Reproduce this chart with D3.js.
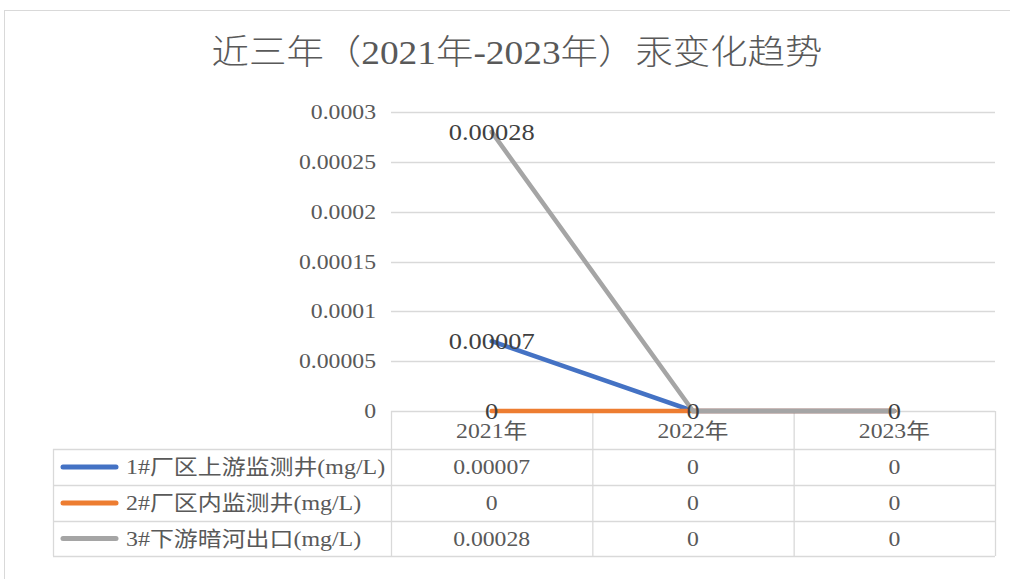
<!DOCTYPE html>
<html>
<head>
<meta charset="utf-8">
<script src="https://cdn.jsdelivr.net/npm/d3@7"></script>
<style>
  body { margin: 0; background: #fff; }
  svg { display: block; }
  text { font-family: "Liberation Serif", "Noto Sans CJK SC", serif; }
</style>
</head>
<body>
<svg id="chart"></svg>
<script>
const years = ["2021年", "2022年", "2023年"];
const seriesNames = ["1#厂区上游监测井(mg/L)", "2#厂区内监测井(mg/L)", "3#下游暗河出口(mg/L)"];
const seriesColors = ["#4472C4", "#ED7D31", "#A5A5A5"];
const upstream = [0.00007, 0, 0];
const inside = [0, 0, 0];
const downstream = [0.00028, 0, 0];
const yTicks = [0, 0.00005, 0.0001, 0.00015, 0.0002, 0.00025, 0.0003];

const width = 1010;
const height = 579;
const series = [upstream, inside, downstream].map((vals, i) => ({
  name: seriesNames[i], color: seriesColors[i], values: vals
}));

const svg = d3.select("#chart")
  .attr("width", width)
  .attr("height", height);

// stretched text, the source rendering is wider than normal serif glyphs
function label(g, x, y, str, size, color, anchor, sx) {
  return g.append("text")
    .attr("transform", `translate(${x},${y}) scale(${sx || 1.13},1)`)
    .attr("text-anchor", anchor || "middle")
    .style("font-size", size + "px")
    .attr("fill", color)
    .text(str);
}

const fmt = d => String(+d.toFixed(5));

svg.append("rect")
  .attr("x", 4.5).attr("y", 10.5)
  .attr("width", 1100).attr("height", 700)
  .attr("fill", "#fff")
  .attr("stroke", "#d9d9d9");

label(svg, 517, 64, "近三年（2021年-2023年）汞变化趋势", 34, "#595959", "middle", 1.1)
  .style("font-weight", 300);

const x = d3.scaleBand().domain(years).range([391, 995]);
const y = d3.scaleLinear().domain([0, 0.0003]).range([411, 112]);
const cx = d => x(d) + x.bandwidth() / 2;

// gridlines
svg.append("g")
  .selectAll("line")
  .data(yTicks.slice(1))
  .join("line")
  .attr("x1", 391).attr("x2", 995)
  .attr("y1", d => Math.round(y(d)) + 0.5)
  .attr("y2", d => Math.round(y(d)) + 0.5)
  .attr("stroke", "#d9d9d9")
  .attr("stroke-width", 1.3);

const yAxisG = svg.append("g");
yTicks.forEach(t => label(yAxisG, 376, y(t) + 7, fmt(t), 21, "#595959", "end"));

// data table
const rowY = [449, 485, 521, 556];
const tableG = svg.append("g").attr("stroke", "#d9d9d9").attr("stroke-width", 1.3);
tableG.append("line").attr("x1", 391).attr("x2", 995).attr("y1", 411.5).attr("y2", 411.5);
rowY.forEach(ry => tableG.append("line").attr("x1", 53).attr("x2", 995).attr("y1", ry + 0.5).attr("y2", ry + 0.5));
x.range().concat(years.slice(1).map(x)).forEach(vx =>
  tableG.append("line").attr("x1", vx + 0.5).attr("x2", vx + 0.5).attr("y1", 411).attr("y2", 556));
tableG.append("line").attr("x1", 53.5).attr("x2", 53.5).attr("y1", 449).attr("y2", 556);

const textG = svg.append("g");
years.forEach(yr => label(textG, cx(yr), 438, yr, 21, "#595959"));
series.forEach((s, i) => {
  const mid = (rowY[i] + rowY[i + 1]) / 2;
  svg.append("line")
    .attr("x1", 63).attr("x2", 116)
    .attr("y1", mid).attr("y2", mid)
    .attr("stroke", s.color)
    .attr("stroke-width", 5)
    .attr("stroke-linecap", "round");
  label(textG, 126, mid + 7, s.name, 21, "#595959", "start", 1.14);
  s.values.forEach((v, j) => label(textG, cx(years[j]), mid + 7, fmt(v), 21, "#595959"));
});

// lines
const line = d3.line()
  .x((d, i) => cx(years[i]))
  .y(d => y(d));

svg.append("g")
  .selectAll("path")
  .data(series)
  .join("path")
  .attr("d", d => line(d.values))
  .attr("fill", "none")
  .attr("stroke", d => d.color)
  .attr("stroke-width", 4.5)
  .attr("stroke-linecap", "round");

// data labels; identical labels at the same point are drawn once
const dl = svg.append("g");
const seen = new Set();
series.forEach(s => s.values.forEach((v, j) => {
  const key = years[j] + "|" + v;
  if (seen.has(key)) return;
  seen.add(key);
  label(dl, cx(years[j]), y(v) + 8, fmt(v), 23, "#404040", "middle", 1.15);
}));
</script>
</body>
</html>
